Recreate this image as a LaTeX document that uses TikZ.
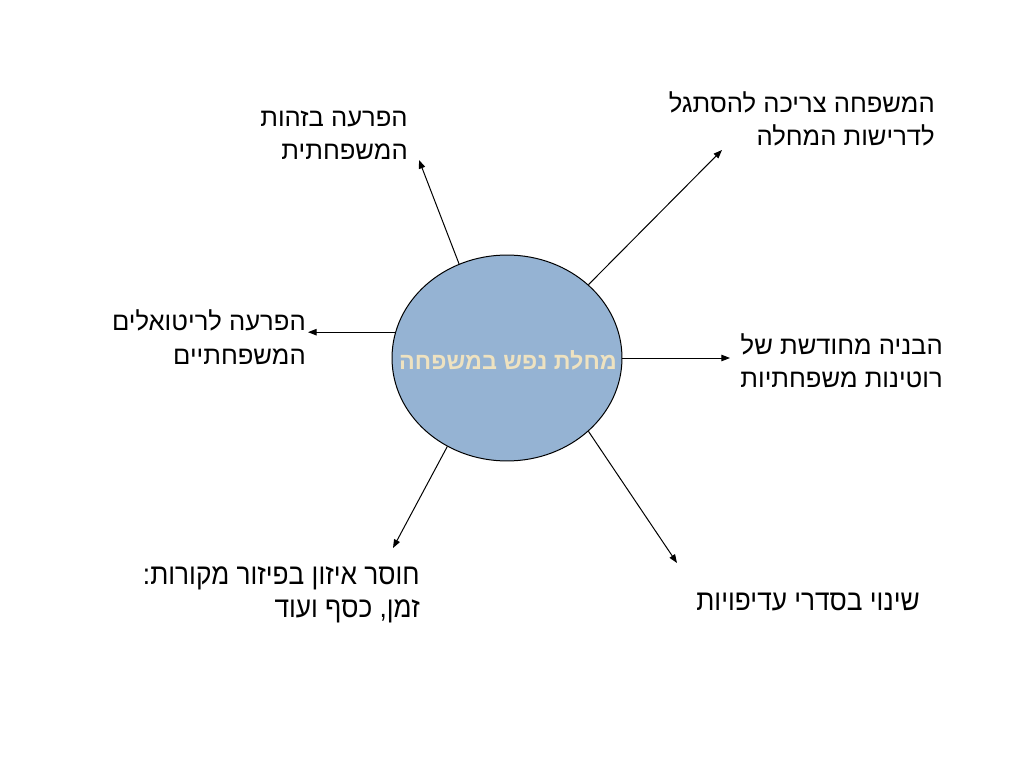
\documentclass[tikz,border=0pt]{standalone}
\usepackage{fontspec}
\setmainfont{Liberation Sans}
\newfontfamily\heb[Script=Hebrew]{Liberation Sans}
\newfontfamily\hebn[Script=Hebrew,FakeStretch=0.9]{Liberation Sans}
\TeXXeTstate=1
\usetikzlibrary{arrows.meta,shapes.geometric}
\definecolor{ellfill}{RGB}{149,179,211}
\definecolor{ctext}{RGB}{238,226,192}
\tikzset{
  arr/.style={-{Triangle[length=6pt,width=4.5pt]}, line width=0.7pt},
  lbl/.style={anchor=east, align=right, inner sep=0pt, font=\heb\fontsize{18pt}{23.5pt}\selectfont},
  lbln/.style={anchor=east, align=right, inner sep=0pt, font=\hebn\fontsize{20.5pt}{23.5pt}\selectfont},
}
\begin{document}
\begin{tikzpicture}[x=0.703125pt,y=-0.703125pt]
\useasboundingbox[fill=white] (0,0) rectangle (1024,768);
\node[draw, ellipse, fill=ellfill, line width=0.7pt, minimum width=161.7pt, minimum height=144.8pt, inner sep=0pt] (e) at (507,358) {};
\node[font=\heb\bfseries\fontsize{16.4pt}{20pt}\selectfont, text=ctext, inner sep=0pt] (ct) at (508,360) {\beginR מחלת נפש במשפחה\endR};

\coordinate (t1) at (419,160);
\coordinate (t2) at (722,150);
\coordinate (t3) at (308,332);
\coordinate (t4) at (730,358);
\coordinate (t5) at (393,548);
\coordinate (t6) at (677,563);

\draw[arr] (e.117.8) -- (t1);
\draw[arr] (e.42.3) -- (t2);
\draw[arr] (e.167) -- (e.167 -| t3);
\draw[arr] (e.east) -- (t4);
\draw[arr] (e.-124) -- (t5);
\draw[arr] (e.-42.9) -- (t6);

\node[lbl] (l1) at (408,135) {\beginR הפרעה בזהות\endR\\\beginR המשפחתית\endR};
\node[lbl] (l2) at (935,119) {\beginR המשפחה צריכה להסתגל\endR\\\beginR לדרישות המחלה\endR};
\node[lbl] (l3) at (306,337) {\beginR הפרעה לריטואלים\endR\\\beginR המשפחתיים\endR};
\node[lbl] (l4) at (943,361) {\beginR הבניה מחודשת של\endR\\\beginR רוטינות משפחתיות\endR};
\node[lbln] (l5) at (420,595) {\beginR חוסר איזון בפיזור מקורות:\endR\\\beginR זמן, כסף ועוד\endR};
\node[lbln] (l6) at (920,602) {\beginR שינוי בסדרי עדיפויות\endR};
\end{tikzpicture}
\end{document}
